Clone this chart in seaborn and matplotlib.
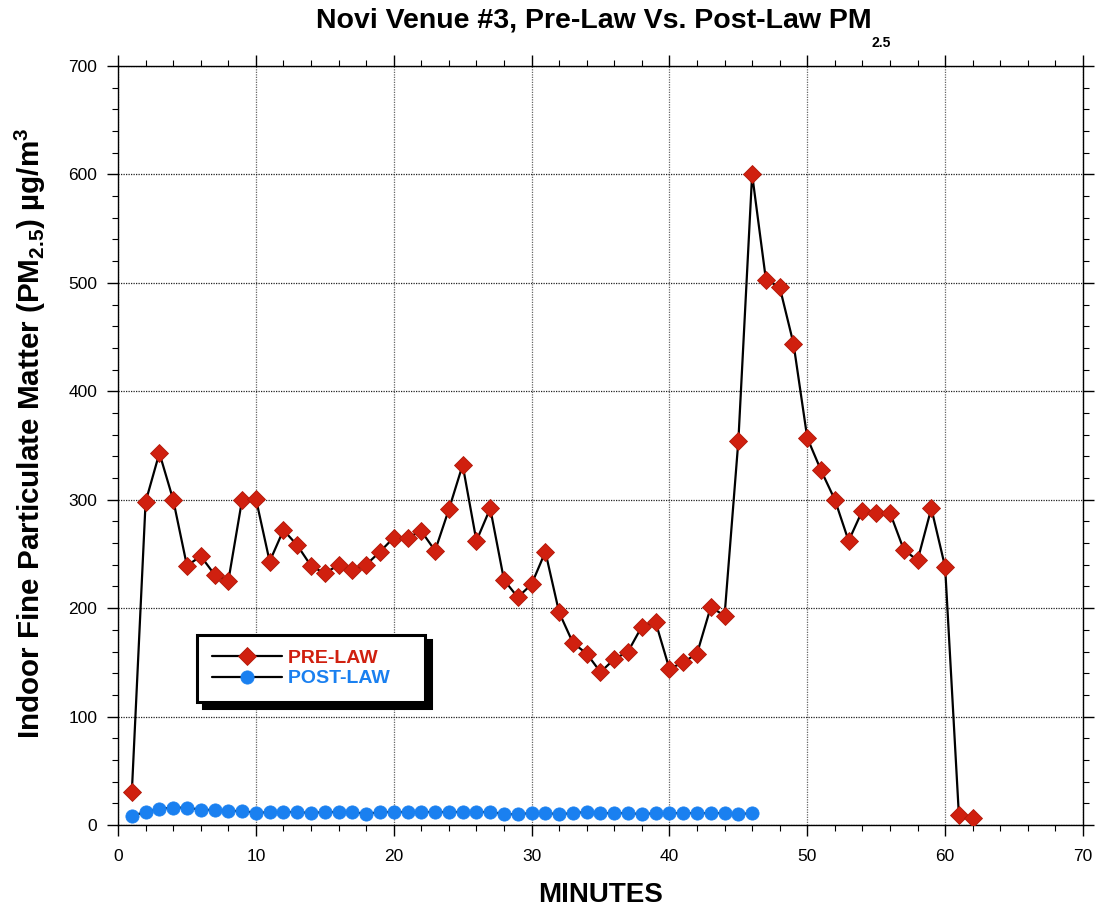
import numpy as np
import pandas as pd
import matplotlib
matplotlib.use("Agg")
import matplotlib.pyplot as plt
import seaborn as sns
from matplotlib.ticker import MultipleLocator

pre_minutes = list(range(1, 63))
pre_values = [30, 298, 343, 300, 239, 248, 231, 225, 300, 301,
              243, 272, 258, 239, 232, 240, 235, 240, 252, 265,
              265, 271, 253, 291, 332, 262, 292, 226, 210, 222,
              252, 196, 168, 158, 141, 153, 160, 183, 187, 144,
              150, 158, 201, 193, 354, 600, 503, 496, 444, 357,
              327, 300, 262, 290, 288, 288, 254, 244, 292, 238,
              9, 6]
post_minutes = list(range(1, 47))
post_values = [8.5, 12, 15, 16, 16, 14, 14, 13, 13, 11,
               12, 12, 12, 11, 12, 12, 12, 10, 12, 12,
               12, 12, 12, 12, 12, 12, 12, 10, 10, 11,
               11, 10, 11, 12, 11, 11, 11, 10, 11, 11,
               11, 11, 11, 11, 10, 11]

series_names = ["PRE-LAW", "POST-LAW"]
title_main = "Novi Venue #3, Pre-Law Vs. Post-Law PM"
title_sub = "2.5"
ylabel_text = "Indoor Fine Particulate Matter (PM$_{2.5}$) µg/m$^3$"
xlabel_text = "MINUTES"

sns.set_theme(style="white")
plt.rcParams["font.family"] = ["Liberation Sans", "DejaVu Sans"]
plt.rcParams["mathtext.fontset"] = "custom"
plt.rcParams["mathtext.rm"] = "Liberation Sans:bold"
plt.rcParams["mathtext.it"] = "Liberation Sans:bold"
plt.rcParams["mathtext.bf"] = "Liberation Sans:bold"
plt.rcParams["text.color"] = "black"
plt.rcParams["axes.labelcolor"] = "black"
plt.rcParams["xtick.color"] = "black"
plt.rcParams["ytick.color"] = "black"

fig = plt.figure(figsize=(10.98, 9.06), dpi=100)
ax = fig.add_axes([0.1075, 0.0894, 0.8788, 0.8378])

red = "#d0200f"
blue = "#1a80f0"

pre_df = pd.DataFrame({"minute": pre_minutes, "value": pre_values})
post_df = pd.DataFrame({"minute": post_minutes, "value": post_values})

sns.lineplot(data=pre_df, x="minute", y="value", ax=ax, color="black",
             linewidth=1.6, marker="D", markersize=9,
             markerfacecolor=red, markeredgecolor="#b01808",
             markeredgewidth=0.6, label=series_names[0] + "      ", zorder=3)
sns.lineplot(data=post_df, x="minute", y="value", ax=ax, color="black",
             linewidth=1.6, marker="o", markersize=9.5,
             markerfacecolor=blue, markeredgecolor=blue,
             markeredgewidth=0.6, label=series_names[1] + "    ", zorder=3)

ax.set_xlim(0, 70)
ax.set_ylim(0, 700)
ax.xaxis.set_major_locator(MultipleLocator(10))
ax.xaxis.set_minor_locator(MultipleLocator(2))
ax.yaxis.set_major_locator(MultipleLocator(100))
ax.yaxis.set_minor_locator(MultipleLocator(20))

ax.tick_params(axis="both", which="major", direction="out", length=8,
               width=1, color="black", labelsize=12.5, labelcolor="black",
               top=True, right=True,
               bottom=True, left=True, labeltop=False, labelright=False)
ax.tick_params(axis="x", which="major", pad=9)
ax.tick_params(axis="y", which="major", pad=7)
ax.tick_params(axis="both", which="minor", direction="out", length=4.5,
               width=0.8, color="black", top=True, right=True,
               bottom=True, left=True)
for s in ax.spines.values():
    s.set_color("black")
    s.set_linewidth(1.0)

ax.grid(True, which="major", axis="x", color="#666666", linestyle=(0, (1, 1)), linewidth=0.9)
ax.grid(True, which="major", axis="y", color="#222222", linestyle=(0, (1, 1)), linewidth=0.9)
ax.set_axisbelow(True)

ttl = fig.text(0.541, 1 - 28 / 906, title_main, fontsize=20.5, fontweight="bold",
               ha="center", va="baseline", color="black")
ax.annotate(title_sub, xy=(1, 0), xycoords=ttl, xytext=(0, -9.5),
            textcoords="offset points", fontsize=10, fontweight="bold",
            ha="left", va="baseline", color="black", annotation_clip=False)

ax.set_xlabel(xlabel_text, fontsize=20, fontweight="bold", labelpad=13)
ax.set_ylabel(ylabel_text, fontsize=21.3, fontweight="bold", labelpad=12)
ax.yaxis.set_label_coords(-0.073, 0.516)

leg = ax.legend(loc="lower left", bbox_to_anchor=(0.082, 0.162),
                frameon=True, fancybox=False,
                shadow={"color": "black", "alpha": 1, "ox": 4, "oy": -4},
                prop={"weight": "bold", "size": 14},
                borderpad=0.75, handlelength=3.6, labelspacing=0.15,
                handletextpad=0.3, borderaxespad=0)
leg.get_frame().set_edgecolor("black")
leg.get_frame().set_linewidth(2.2)
leg.get_frame().set_facecolor("white")
leg.get_frame().set_alpha(1)
for t, c in zip(leg.get_texts(), [red, blue]):
    t.set_color(c)
for h in leg.legend_handles:
    h.set_markersize(9.5)

fig.savefig("out.png", dpi=100, facecolor="white")
